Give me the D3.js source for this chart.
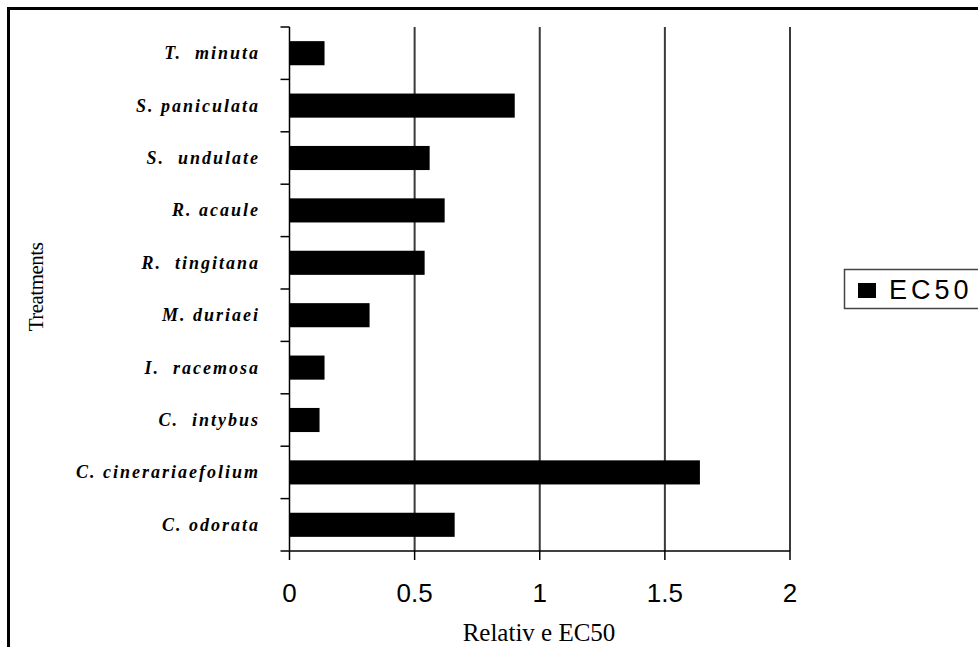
<!DOCTYPE html>
<html>
<head>
<meta charset="utf-8">
<script src="https://cdn.jsdelivr.net/npm/d3@7"></script>
<style>
html, body { margin: 0; padding: 0; background: #fff; }
svg { display: block; }
</style>
</head>
<body>
<svg id="chart" width="978" height="647"></svg>
<script>
// ---- data ----
const categories = ["T.  minuta", "S. paniculata", "S.  undulate", "R. acaule", "R.  tingitana",
  "M. duriaei", "I.  racemosa", "C.  intybus", "C. cinerariaefolium", "C. odorata"];
const ec50 = [0.14, 0.90, 0.56, 0.62, 0.54, 0.32, 0.14, 0.12, 1.64, 0.66];
const xTicks = [0, 0.5, 1, 1.5, 2];
const seriesName = "EC50";
const xTitle = "Relativ e EC50";
const yTitle = "Treatments";

const svg = d3.select("#chart");

// outer frame (top and left visible)
svg.append("line").attr("x1", 8.5).attr("x2", 978).attr("y1", 8.5).attr("y2", 8.5)
  .attr("stroke", "#000").attr("stroke-width", 3);
svg.append("line").attr("x1", 8.5).attr("x2", 8.5).attr("y1", 7).attr("y2", 647)
  .attr("stroke", "#000").attr("stroke-width", 3);

const plotL = 289.5, plotR = 790, plotT = 27, plotB = 551;

const x = d3.scaleLinear().domain([0, 2]).range([plotL, plotR]);
const y = d3.scaleBand().domain(categories).range([plotT, plotB])
  .paddingInner(0.54).paddingOuter(0.27);

// gridlines
svg.append("g").selectAll("line").data(xTicks.filter(d => d > 0)).join("line")
  .attr("x1", d => x(d)).attr("x2", d => x(d))
  .attr("y1", plotT).attr("y2", plotB)
  .attr("stroke", "#3a3a3a").attr("stroke-width", 2);

// bars
svg.append("g").selectAll("rect").data(categories).join("rect")
  .attr("x", x(0))
  .attr("y", d => y(d))
  .attr("width", (d, i) => x(ec50[i]) - x(0))
  .attr("height", y.bandwidth())
  .attr("fill", "#000");

// y axis line + boundary ticks
const gap = (y.step() - y.bandwidth()) / 2;
const bounds = categories.map(c => y(c) - gap).concat([plotB]);
svg.append("line").attr("x1", x(0)).attr("x2", x(0)).attr("y1", plotT).attr("y2", plotB)
  .attr("stroke", "#000").attr("stroke-width", 1.5);
svg.append("g").selectAll("line").data(bounds).join("line")
  .attr("x1", x(0) - 9).attr("x2", x(0))
  .attr("y1", d => d).attr("y2", d => d)
  .attr("stroke", "#000").attr("stroke-width", 1.5);

// x axis line + ticks
svg.append("line").attr("x1", x(0)).attr("x2", x(2)).attr("y1", plotB).attr("y2", plotB)
  .attr("stroke", "#000").attr("stroke-width", 1.5);
svg.append("g").selectAll("line").data(xTicks).join("line")
  .attr("x1", d => x(d)).attr("x2", d => x(d))
  .attr("y1", plotB).attr("y2", plotB + 9)
  .attr("stroke", "#000").attr("stroke-width", 1.5);

// x tick labels
svg.append("g").selectAll("text").data(xTicks).join("text")
  .attr("x", d => x(d)).attr("y", 602)
  .attr("text-anchor", "middle")
  .attr("font-family", "Liberation Sans, Arial, sans-serif")
  .attr("font-size", 26)
  .attr("fill", "#000")
  .text(d => String(d));

// category labels
svg.append("g").selectAll("text").data(categories).join("text")
  .attr("x", 260)
  .attr("y", d => y(d) + y.bandwidth() / 2)
  .attr("dy", "0.33em")
  .attr("text-anchor", "end")
  .attr("font-family", "Liberation Serif, Times New Roman, serif")
  .attr("font-style", "italic")
  .attr("font-weight", "bold")
  .attr("font-size", 18)
  .attr("letter-spacing", 2)
  .style("white-space", "pre")
  .attr("fill", "#000")
  .text(d => d);

// axis titles
svg.append("text")
  .attr("x", 539).attr("y", 641)
  .attr("text-anchor", "middle")
  .attr("font-family", "Liberation Serif, Times New Roman, serif")
  .attr("font-size", 25)
  .style("white-space", "pre")
  .attr("fill", "#000")
  .text(xTitle);

svg.append("text")
  .attr("transform", "translate(43,287) rotate(-90)")
  .attr("text-anchor", "middle")
  .attr("font-family", "Liberation Serif, Times New Roman, serif")
  .attr("font-size", 21)
  .attr("letter-spacing", -0.5)
  .attr("fill", "#000")
  .text(yTitle);

// legend
const lg = svg.append("g");
lg.append("rect").attr("x", 844.5).attr("y", 269.5).attr("width", 150).attr("height", 39)
  .attr("fill", "#fff").attr("stroke", "#444").attr("stroke-width", 1.5);
lg.append("rect").attr("x", 858).attr("y", 283).attr("width", 18).attr("height", 15).attr("fill", "#000");
lg.append("text").attr("x", 889).attr("y", 299)
  .attr("font-family", "Liberation Sans, Arial, sans-serif")
  .attr("font-size", 27)
  .attr("letter-spacing", 4)
  .attr("fill", "#000")
  .text(seriesName);
</script>
</body>
</html>
